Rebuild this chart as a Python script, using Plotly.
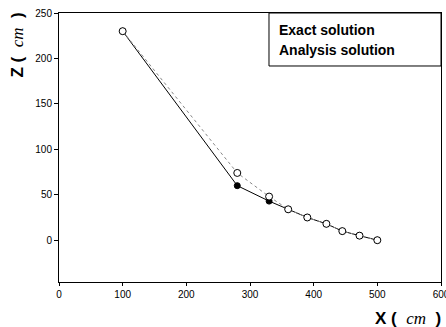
import plotly.graph_objects as go

exact_x = [100, 280, 330, 360, 390, 420, 445, 472, 500]
exact_z = [230, 74, 48, 34, 25, 18, 10, 5, 0]
analysis_x = [100, 280, 330, 360, 390, 420, 445, 472, 500]
analysis_z = [230, 60, 43, 34, 25, 18, 10, 5, 0]
x_ticks = [0, 100, 200, 300, 400, 500, 600]
z_ticks = [0, 50, 100, 150, 200, 250]
legend_labels = ["Exact solution", "Analysis solution"]

fig = go.Figure()
fig.add_trace(go.Scatter(x=analysis_x, y=analysis_z, mode="lines+markers", name=legend_labels[1],
                         line=dict(color="black", width=1),
                         marker=dict(symbol="circle", size=6, color="black", line=dict(color="black", width=1))))
fig.add_trace(go.Scatter(x=exact_x, y=exact_z, mode="lines+markers", name=legend_labels[0],
                         line=dict(color="#888888", width=1, dash="dot"),
                         marker=dict(symbol="circle", size=7, color="white", line=dict(color="black", width=1))))

fig.update_layout(
    width=446, height=327,
    margin=dict(l=59, r=5, t=13, b=45),
    paper_bgcolor="white", plot_bgcolor="white",
    showlegend=False,
    font=dict(family="Liberation Sans, Arial", size=10, color="black"),
    xaxis=dict(range=[0, 600], tickvals=x_ticks, showgrid=False, zeroline=False,
               showline=True, linecolor="black", linewidth=1, mirror=True,
               ticks="outside", ticklen=3, tickcolor="black",
               ticklabeloverflow="allow", automargin=False,
               tickfont=dict(size=10)),
    yaxis=dict(range=[-46, 250], tickvals=z_ticks, showgrid=False, zeroline=False,
               showline=True, linecolor="black", linewidth=1, mirror=True,
               ticks="outside", ticklen=4, tickcolor="black",
               ticklabeloverflow="allow", automargin=False,
               tickfont=dict(size=10)),
)

# legend box
fig.add_shape(type="rect", xref="paper", yref="paper", x0=0.5497, x1=1.0, y0=0.803, y1=1.0,
              line=dict(color="black", width=1), fillcolor="white", layer="above")
for label, yy in zip(legend_labels, [0.937, 0.8625]):
    fig.add_annotation(xref="paper", yref="paper", x=0.5707, y=yy, xanchor="left", yanchor="middle",
                       text="<b>%s</b>" % label, showarrow=False,
                       font=dict(family="Liberation Sans, Arial", size=14, color="black"))

title_html = ("<b>%s</b>&nbsp;<b>(</b>&nbsp;&nbsp;<i><span style='font-family:Liberation Serif'>cm</span></i>"
              "&nbsp;&nbsp;<b>)</b>")

fig.add_annotation(
    xref="paper", yref="paper", x=1, y=0, xanchor="right", yanchor="middle", yshift=-36, xshift=2,
    text=title_html % "X",
    showarrow=False, font=dict(family="Liberation Sans, Arial", size=17, color="black"),
)

fig.add_annotation(
    xref="paper", yref="paper", x=0, y=1, xanchor="center", yanchor="top", xshift=-42, yshift=2,
    text=title_html % "Z",
    textangle=-90,
    showarrow=False, font=dict(family="Liberation Sans, Arial", size=17, color="black"),
)

fig.write_html("out.html", config={"displayModeBar": False},
               post_script="document.body.style.margin='0';document.body.style.padding='0';")
